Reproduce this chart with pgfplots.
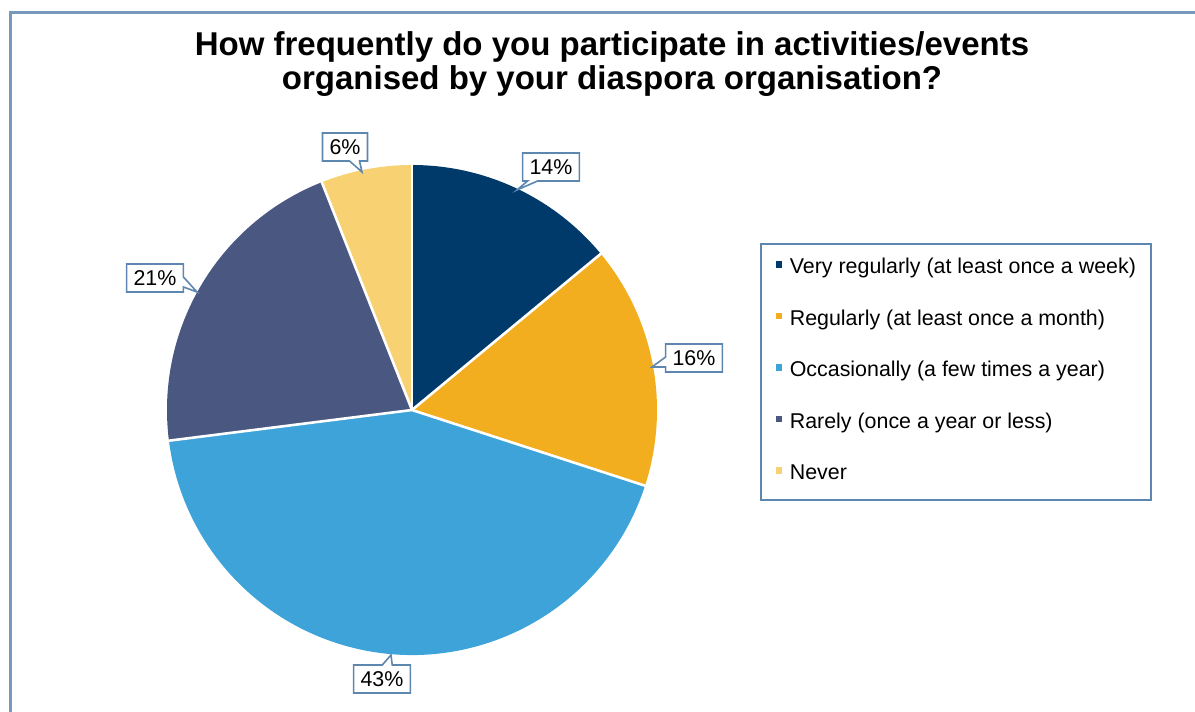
\documentclass[border=0pt]{standalone}
\usepackage{pgfplots}
\pgfplotsset{compat=1.18}
\usepackage{pgfplotstable}
\usepackage{fontspec}
\setmainfont{Liberation Sans}
\usetikzlibrary{shapes.callouts}
\definecolor{cVR}{HTML}{003A6B}
\definecolor{cR}{HTML}{F2AE1F}
\definecolor{cO}{HTML}{3DA3D9}
\definecolor{cRa}{HTML}{4A5780}
\definecolor{cN}{HTML}{F8D173}
\definecolor{frame}{HTML}{5E87B0}

% value, colour, label centre (px), pointer tip (px); y measured upward
\pgfplotstableread[col sep=comma]{
value,color,lx,ly,tx,ty
14,cVR,551,545,517,522
16,cR,694,354,652,345
43,cO,382,33,391,57
21,cRa,155,434,197,420
6,cN,345,565,362,540
}\piedata

\tikzset{pielabel/.style={rectangle callout, draw=frame, line width=0.8pt, fill=white,
  font=\fontsize{10.7}{12}\selectfont, inner xsep=3.5pt, inner ysep=3pt, minimum height=14pt,
  callout pointer width=5pt}}

\begin{document}
\begin{tikzpicture}
\begin{axis}[
  scale only axis, width=597.5pt, height=356pt,
  xmin=0, xmax=1195, ymin=0, ymax=712,
  hide axis, clip=false,
  legend style={at={(0.636,0.6587)}, anchor=north west, draw=frame, line width=0.8pt,
    inner xsep=7.5pt, inner ysep=7.5pt, row sep=15.75pt,
    font=\fontsize{10.7}{12}\selectfont,
    nodes={inner sep=0pt, text height=7.5pt, text depth=2.5pt},
    /tikz/every odd column/.style={column sep=3.8pt}},
  legend cell align=left,
  legend image code/.code={\fill[#1] (1.8pt,0.9pt) rectangle (4.2pt,3.3pt);},
]
\gdef\cum{0}
\pgfplotsinvokeforeach{0,...,4}{%
  \pgfplotstablegetelem{#1}{value}\of\piedata \let\v\pgfplotsretval
  \pgfplotstablegetelem{#1}{color}\of\piedata \let\c\pgfplotsretval
  \pgfmathsetmacro\sa{90-3.6*\cum}
  \pgfmathsetmacro\ea{90-3.6*(\cum+\v)}
  \pgfmathsetmacro\newcum{\cum+\v}\global\let\cum\newcum
  \edef\tmp{\noexpand\fill[\c] (axis cs:412,302) -- ++(\sa:122.5pt) arc[start angle=\sa, end angle=\ea, radius=122.5pt] -- cycle;}%
  \tmp
}
\gdef\cum{0}
\pgfplotsinvokeforeach{0,...,4}{%
  \pgfplotstablegetelem{#1}{value}\of\piedata \let\v\pgfplotsretval
  \pgfplotstablegetelem{#1}{lx}\of\piedata \let\lx\pgfplotsretval
  \pgfplotstablegetelem{#1}{ly}\of\piedata \let\ly\pgfplotsretval
  \pgfplotstablegetelem{#1}{tx}\of\piedata \let\tx\pgfplotsretval
  \pgfplotstablegetelem{#1}{ty}\of\piedata \let\ty\pgfplotsretval
  \pgfmathsetmacro\sa{90-3.6*\cum}
  \pgfmathsetmacro\newcum{\cum+\v}\global\let\cum\newcum
  \edef\tmp{\noexpand\draw[white, line width=1.3pt] (axis cs:412,302) -- ++(\sa:123pt);
    \noexpand\node[pielabel, callout absolute pointer={(axis cs:\tx,\ty)}] at (axis cs:\lx,\ly) {\v\noexpand\%};}%
  \tmp
}
\addlegendimage{cVR}\addlegendentry{Very regularly (at least once a week)}
\addlegendimage{cR}\addlegendentry{Regularly (at least once a month)}
\addlegendimage{cO}\addlegendentry{Occasionally (a few times a year)}
\addlegendimage{cRa}\addlegendentry{Rarely (once a year or less)}
\addlegendimage{cN}\addlegendentry{Never}
% frame and title
\draw[frame!85, line width=1.5pt] (axis cs:10,0) -- (axis cs:10,699) -- (axis cs:1195,699);
\node[anchor=base, font=\bfseries\fontsize{16.5}{17}\selectfont] at (axis cs:612,656)
  {How frequently do you participate in activities/events};
\node[anchor=base, font=\bfseries\fontsize{16.5}{17}\selectfont] at (axis cs:612,622)
  {organised by your diaspora organisation?};
\end{axis}
\pgfresetboundingbox
\path (0,0) rectangle (597.5pt,356pt);
\end{tikzpicture}
\end{document}
